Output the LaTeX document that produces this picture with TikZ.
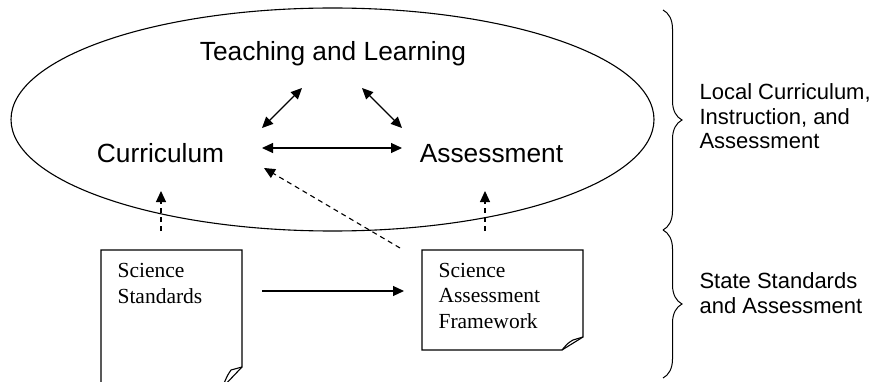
\documentclass[tikz,border=0pt]{standalone}
\usepackage{fontspec}
\setmainfont{Liberation Serif}
\setsansfont{Liberation Sans}
\usetikzlibrary{arrows.meta,decorations.pathreplacing,shapes.geometric}
\begin{document}
\begin{tikzpicture}[x=1pt,y=-1pt, line width=1.1pt,
  tip/.tip={Triangle[length=11pt,width=10pt]},
  arr/.style={-tip},
  darr/.style={tip-tip},
  dsh/.style={-tip, dash pattern=on 5pt off 4pt},
  big/.style={font=\fontsize{26.3}{30}\selectfont\sffamily, inner sep=0, anchor=base},
  side/.style={font=\fontsize{22}{24.5}\selectfont\sffamily, inner sep=0, anchor=base west, align=left},
  doctext/.style={font=\fontsize{21.5}{25.5}\selectfont\rmfamily, inner sep=0, anchor=base west, align=left},
  bracestyle/.style={line width=1pt, decorate, decoration={brace, amplitude=19pt}},
  docline/.style={line width=1.1pt, line join=miter}]
\useasboundingbox (0,0) rectangle (874,382);
\clip (0,0) rectangle (874,382);

% oval
\node[draw, ellipse, minimum width=643pt, minimum height=223pt, inner sep=0, outer sep=0] (oval) at (332.5,119.5) {};

% main texts
\node[big] (tl) at (333,61) {Teaching and Learning};
\node[big] (cur) at (160.5,163) {Curriculum};
\node[big] (ass) at (491.5,163) {Assessment};

% arrow end points
\coordinate (h1) at (262,148); \coordinate (h2) at (402,148);
\coordinate (l1) at (262,128); \coordinate (l2) at (302,88);
\coordinate (r1) at (362,88);  \coordinate (r2) at (402,128);
\coordinate (vl1) at (161,231); \coordinate (vl2) at (161,191);
\coordinate (vr1) at (485,231); \coordinate (vr2) at (485,191);
\coordinate (d1) at (400,248); \coordinate (d2) at (264,168);
\coordinate (s1) at (262,291); \coordinate (s2) at (404,291);

\draw[darr] (h1) -- (h2);
\draw[darr] (l1) -- (l2);
\draw[darr] (r1) -- (r2);
\draw[dsh] (vl1) -- (vl2);
\draw[dsh] (vr1) -- (vr2);
\draw[dsh] (d1) -- (d2);
\draw[arr] (s1) -- (s2);

% document 1
\draw[docline] (101,250) -- (242,250) -- (242,367) -- (222,388) -- (101,388) -- cycle;
\draw[docline] (242,367) -- (231,370) .. controls (228,374) .. (222,388);
\node[doctext] (ss) at (117,303) {Science\\Standards};

% document 2
\draw[docline] (422,250) -- (583,250) -- (583,337) -- (562,350) -- (422,350) -- cycle;
\draw[docline] (583,337) -- (573,340) .. controls (568,343) .. (562,350);
\node[doctext] (saf) at (438,328) {Science\\Assessment\\Framework};

% braces
\draw[bracestyle] (663,10) -- (663,230);
\draw[bracestyle] (663,230) -- (663,378);

% side labels
\node[side] (lab1) at (699,149) {Local Curriculum,\\Instruction, and\\Assessment};
\node[side] (lab2) at (699,313) {State Standards\\and Assessment};
\end{tikzpicture}
\end{document}
